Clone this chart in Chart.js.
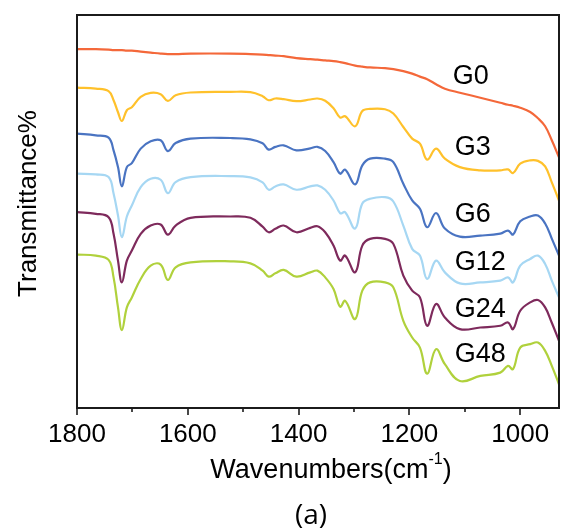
<!DOCTYPE html>
<html>
<head>
<meta charset="utf-8">
<script src="https://cdn.jsdelivr.net/npm/chart.js@4.4.0/dist/chart.umd.min.js"></script>
<style>
  html, body { margin: 0; padding: 0; background: #fff; }
  #wrap { width: 561px; height: 532px; }
</style>
</head>
<body>
<div id="wrap"><canvas id="ftir" width="561" height="532"></canvas></div>
<script>
// Wavenumbers (cm-1), x axis runs high -> low
const wavenumbers = [1800, 1766, 1743, 1734, 1726, 1719, 1710, 1701, 1685, 1667, 1649, 1636, 1622, 1595,
  1523, 1487, 1465, 1454, 1442, 1427, 1404, 1379, 1366, 1352, 1337, 1325, 1316, 1298, 1285, 1271,
  1244, 1229, 1211, 1195, 1181, 1168, 1152, 1136, 1109, 1072, 1036, 1022, 1013, 1000, 982, 968, 955, 943, 930];

// Transmittance (arbitrary units, stacked with offsets as in the figure)
const g0 = [358, 358, 357.5, 357, 357, 357, 356.5, 356.5, 355.5, 354.5, 353.5, 353, 353, 353.5,
  353.5, 353, 352.5, 352, 351.5, 351, 349, 348, 347.5, 346.7, 346, 345, 344, 341.5, 340.5, 339.7,
  339, 338, 336, 333.5, 330.5, 328, 323, 318.5, 314.5, 309.5, 304.5, 302.5, 301.5, 299.5, 295.3, 289, 281, 267, 250];
const g3 = [319.5, 318.5, 316, 307, 295, 286.3, 297, 300, 310.3, 314.3, 313, 306.3, 312, 314.7,
  315.3, 315, 311, 307, 308.7, 308, 306, 307.7, 308.7, 306.5, 299, 289.7, 291, 281, 296.3, 298.3,
  298, 293.7, 280.3, 268.7, 263.7, 247.7, 258.7, 248.7, 240.3, 237, 237, 238, 234.3, 243.7, 247, 246.5, 241, 225, 207];
const g6 = [273.7, 272, 269.7, 257, 240.3, 221, 240.3, 244.3, 258.7, 266, 267, 256.3, 264.3, 268.7,
  269.3, 268, 264, 257.7, 260.5, 262, 257, 259, 260.5, 256.3, 245.3, 233.7, 237.7, 223, 242, 248.7,
  248.7, 245.3, 223.7, 207, 198.7, 180.3, 194.5, 179, 171, 172, 174, 177, 173, 186.3, 191, 192, 184, 169, 152];
const g12 = [233.7, 233, 230.3, 214, 192, 170.3, 191, 202, 220.3, 228.7, 227.7, 214.3, 225.3, 230.3,
  231.3, 230, 225, 217.7, 221, 223, 217.7, 221, 222, 217.7, 207, 194.3, 195.3, 179, 204, 208.7,
  210.3, 206, 182, 158.7, 152, 128.7, 147, 135.3, 124.3, 125.3, 127, 130.3, 125.3, 142, 148.7, 152, 143.7, 127, 110.3];
const g24 = [195.3, 193.7, 190.3, 173.7, 147, 125.3, 147, 157, 173.7, 182, 183, 173, 182, 189.7,
  191, 189.7, 181, 175.3, 178.7, 182, 175.3, 179.7, 181.3, 175.3, 162, 147, 152, 135.3, 162, 168.7,
  168.7, 163.7, 132, 117, 110.3, 82, 103.7, 90.3, 78.7, 80.3, 82, 85.3, 78.7, 97, 105.3, 107.7, 100.3, 85, 67];
const g48 = [153, 152, 147.7, 130.3, 100.3, 77.7, 100.3, 110.3, 128.7, 142, 143, 127.7, 140.3, 145.3,
  146.3, 144.3, 137, 131, 134.3, 137.7, 131, 135.3, 137, 130.3, 118.7, 101, 107, 88.7, 117, 125.3,
  125.3, 120.3, 87, 70.3, 60.3, 34.3, 58.7, 43.7, 27, 32, 35.3, 42, 38.7, 60.3, 63.7, 65.3, 57, 42, 23.7];

const seriesNames = ['G0', 'G3', 'G6', 'G12', 'G24', 'G48'];
const seriesData = [g0, g3, g6, g12, g24, g48];
const seriesColors = ['#F4683A', '#FFC12B', '#4A74C2', '#A6D7F3', '#7E2A5C', '#B0D13C'];

const majorTicks = [1800, 1600, 1400, 1200, 1000];
const minorTicks = [1700, 1500, 1300, 1100];

// where the series names sit, in data units [wavenumber, value]
const nameSpots = [[1122, 331], [1118, 260], [1118, 193], [1118, 145], [1118, 98], [1118, 53]];

const FONT = '"Liberation Sans", Arial, sans-serif';

const framePlugin = {
  id: 'frame',
  afterDraw(chart) {
    const { ctx, chartArea: a } = chart;
    const x = chart.scales.x, y = chart.scales.y;
    ctx.save();
    ctx.strokeStyle = '#1b1b1b';
    ctx.lineWidth = 2;
    ctx.strokeRect(a.left, a.top, a.right - a.left, a.bottom - a.top);

    // tick marks, pointing out of the box
    ctx.lineWidth = 1.6;
    const tick = (v, len) => {
      const px = Math.round(x.getPixelForValue(v));
      ctx.beginPath();
      ctx.moveTo(px, a.bottom);
      ctx.lineTo(px, a.bottom + len);
      ctx.stroke();
    };
    majorTicks.forEach(v => tick(v, 7));
    minorTicks.forEach(v => tick(v, 4));

    // series names
    ctx.fillStyle = '#000';
    ctx.font = '27px ' + FONT;
    ctx.textAlign = 'left';
    ctx.textBaseline = 'middle';
    seriesNames.forEach((n, i) => {
      ctx.fillText(n, x.getPixelForValue(nameSpots[i][0]), y.getPixelForValue(nameSpots[i][1]));
    });

    // y title
    ctx.save();
    ctx.font = '26px ' + FONT;
    ctx.translate(29, (a.top + a.bottom) / 2 - 8);
    ctx.rotate(-Math.PI / 2);
    ctx.textAlign = 'center';
    ctx.fillText('Transmittance%', 0, 0);
    ctx.restore();

    // x title with superscript
    const t1 = 'Wavenumbers(cm', t2 = '-1', t3 = ')';
    ctx.font = '27px ' + FONT;
    const w1 = ctx.measureText(t1).width, w3 = ctx.measureText(t3).width;
    ctx.font = '16px ' + FONT;
    const w2 = ctx.measureText(t2).width;
    let sx = 331 - (w1 + w2 + w3) / 2;
    const ty = 471;
    ctx.font = '27px ' + FONT;
    ctx.fillText(t1, sx, ty);
    sx += w1;
    ctx.font = '16px ' + FONT;
    ctx.fillText(t2, sx, ty - 11);
    sx += w2;
    ctx.font = '27px ' + FONT;
    ctx.fillText(t3, sx, ty);

    ctx.font = '28px "Open Sans", sans-serif';
    ctx.textAlign = 'center';
    ctx.fillText('(a)', 311, 516);
    ctx.restore();
  }
};

new Chart(document.getElementById('ftir'), {
  type: 'line',
  data: {
    datasets: seriesNames.map((name, i) => ({
      label: name,
      data: wavenumbers.map((w, j) => ({ x: w, y: seriesData[i][j] })),
      borderColor: seriesColors[i],
      borderWidth: 2.2,
      pointRadius: 0,
      tension: 0.4,
      fill: false
    }))
  },
  options: {
    responsive: false,
    animation: false,
    layout: { padding: { top: 15, right: 2, left: 0, bottom: 0 } },
    scales: {
      x: {
        type: 'linear',
        reverse: true,
        min: 930,
        max: 1800,
        grid: { display: false },
        border: { display: false },
        afterBuildTicks: scale => { scale.ticks = majorTicks.map(v => ({ value: v })); },
        afterFit: scale => { scale.height = 124; },
        ticks: {
          padding: 3,
          color: '#000',
          font: { family: FONT, size: 26 },
          maxRotation: 0,
          autoSkip: false,
          callback: v => String(v)
        }
      },
      y: {
        min: 0,
        max: 392,
        grid: { display: false },
        border: { display: false },
        ticks: { display: false },
        afterFit: scale => { scale.width = 77; }
      }
    },
    plugins: {
      legend: { display: false },
      tooltip: { enabled: false }
    }
  },
  plugins: [framePlugin]
});
</script>
</body>
</html>
